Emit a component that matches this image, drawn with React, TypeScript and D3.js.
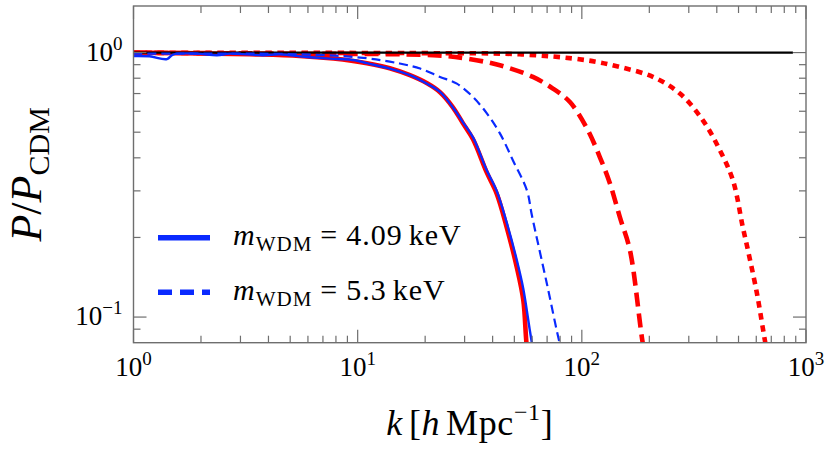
import * as React from 'react';
import { useEffect, useRef } from 'react';
import * as d3 from 'd3';

// Data (k in h/Mpc, P/P_CDM)
const kModel409 = [1, 2, 3.3, 5.5, 7.8, 11, 13.9, 17.1, 20.4, 23.3, 26.6, 29.5, 32.7, 37.6, 41.7, 46.2, 51.2, 54.8, 56.7, 58];
const pModel409 = [1.0, 0.993, 0.985, 0.972, 0.949, 0.911, 0.872, 0.821, 0.765, 0.708, 0.621, 0.54, 0.47, 0.353, 0.293, 0.219, 0.155, 0.116, 0.079, 0.07];

const kModelDashed = [1, 5.5, 21.7, 30.7, 43.1, 60.5, 74.3, 88.5, 105.4, 120.4, 133.5, 147.9, 163.9, 187.3, 200];
const pModelDashed = [0.998, 0.99, 0.977, 0.949, 0.895, 0.809, 0.731, 0.65, 0.517, 0.402, 0.32, 0.238, 0.179, 0.079, 0.06];

const kModelDotted = [1, 20, 52.9, 105.4, 147.9, 207.6, 273.9, 346.9, 413, 472, 523, 550.8, 604, 655.6, 700];
const pModelDotted = [0.997, 0.995, 0.985, 0.935, 0.882, 0.809, 0.7, 0.554, 0.427, 0.329, 0.218, 0.179, 0.123, 0.0816, 0.06];

const kSim409 = [1, 1.18, 1.41, 1.5, 1.92, 2.36, 2.69, 3.78, 4.5, 5.94, 7.52, 9.73, 11, 13.9, 17.1, 20.4, 23.3, 26.6, 29.5, 32.7, 37.6, 41.7, 46.2, 51.2, 54.8, 58.5, 60, 62];
const pSim409 = [0.971, 0.968, 0.945, 0.983, 0.991, 0.977, 0.991, 0.977, 0.985, 0.962, 0.949, 0.935, 0.912, 0.87, 0.822, 0.762, 0.71, 0.62, 0.545, 0.478, 0.36, 0.3, 0.228, 0.165, 0.128, 0.09, 0.079, 0.068];

const kSim53 = [1, 5.5, 10.6, 15.4, 19, 23.3, 27.7, 32.7, 37.7, 43.1, 49.3, 56.9, 59.9, 69.8, 79.8, 85];
const pSim53 = [0.99, 0.985, 0.955, 0.909, 0.87, 0.809, 0.763, 0.679, 0.589, 0.495, 0.391, 0.301, 0.242, 0.134, 0.079, 0.065];

const kCDM = [1, 874];
const pCDM = [1, 1];

const xTicks = [1, 10, 100, 1000];
const xTickLabels = ['0', '1', '2', '3'];
const yTicks = [0.1, 1];
const yTickLabels = ['\u22121', '0'];
const yMinorTicks = [0.09, 0.2, 0.3, 0.4, 0.5, 0.6, 0.7, 0.8, 0.9];

const legendItems = [
  { label: '4.09', dash: '' },
  { label: '5.3', dash: '14,8' },
];

const W = 830;
const H = 458;
const FONT = '"Liberation Serif", serif';
const RED = '#ff0000';
const BLUE = '#0a2aff';
const AXIS = '#6e6e6e';

const PowerChart: React.FC = () => {
  const svgRef = useRef<SVGSVGElement>(null);

  useEffect(() => {
    const svg = d3.select(svgRef.current);
    svg.selectAll('*').remove();

    const margin = { top: 6, right: 24, bottom: 115.3, left: 133.5 };
    const x0 = margin.left;
    const x1 = W - margin.right;
    const y0 = margin.top;
    const y1 = H - margin.bottom;

    const x = d3.scaleLog().domain([1, 1000]).range([x0, x1]);
    const y = d3.scaleLog().domain([0.08, 1.5]).range([y1, y0]);

    svg.append('defs').append('clipPath').attr('id', 'plotclip')
      .append('rect').attr('x', x0).attr('y', y0).attr('width', x1 - x0).attr('height', y1 - y0);

    const line = d3.line<[number, number]>()
      .x(d => x(d[0]))
      .y(d => y(d[1]))
      .curve(d3.curveCatmullRom.alpha(0.5));

    const series = [
      { k: kModel409, p: pModel409, color: RED, width: 4.6, dash: '' },
      { k: kModelDashed, p: pModelDashed, color: RED, width: 4.6, dash: '14,7' },
      { k: kModelDotted, p: pModelDotted, color: RED, width: 4.6, dash: '6.5,5.5' },
      { k: kCDM, p: pCDM, color: '#000', width: 2.2, dash: '' },
      { k: kSim409, p: pSim409, color: BLUE, width: 2.4, dash: '' },
      { k: kSim53, p: pSim53, color: BLUE, width: 2.2, dash: '9,5' },
    ];

    const plot = svg.append('g').attr('clip-path', 'url(#plotclip)');
    series.forEach(s => {
      plot.append('path')
        .datum(s.k.map((k, i) => [k, s.p[i]] as [number, number]))
        .attr('fill', 'none')
        .attr('stroke', s.color)
        .attr('stroke-width', s.width)
        .attr('stroke-dasharray', s.dash || null)
        .attr('d', line);
    });

    // Frame
    svg.append('rect')
      .attr('x', x0).attr('y', y0).attr('width', x1 - x0).attr('height', y1 - y0)
      .attr('fill', 'none').attr('stroke', AXIS).attr('stroke-width', 1.4);

    // Ticks (inward)
    const ticks = svg.append('g').attr('stroke', AXIS).attr('stroke-width', 1.2);
    const xMinor: number[] = [];
    [1, 10, 100].forEach(d => d3.range(2, 10).forEach(m => xMinor.push(d * m)));
    xTicks.forEach(t => {
      ticks.append('line').attr('x1', x(t)).attr('x2', x(t)).attr('y1', y1).attr('y2', y1 - 13);
      ticks.append('line').attr('x1', x(t)).attr('x2', x(t)).attr('y1', y0).attr('y2', y0 + 13);
    });
    xMinor.forEach(t => {
      ticks.append('line').attr('x1', x(t)).attr('x2', x(t)).attr('y1', y1).attr('y2', y1 - 7);
      ticks.append('line').attr('x1', x(t)).attr('x2', x(t)).attr('y1', y0).attr('y2', y0 + 7);
    });
    yTicks.forEach(t => {
      ticks.append('line').attr('x1', x0).attr('x2', x0 + 13).attr('y1', y(t)).attr('y2', y(t));
      ticks.append('line').attr('x1', x1).attr('x2', x1 - 13).attr('y1', y(t)).attr('y2', y(t));
    });
    yMinorTicks.forEach(t => {
      ticks.append('line').attr('x1', x0).attr('x2', x0 + 7).attr('y1', y(t)).attr('y2', y(t));
      ticks.append('line').attr('x1', x1).attr('x2', x1 - 7).attr('y1', y(t)).attr('y2', y(t));
    });

    // Tick labels
    const labels = svg.append('g').attr('font-family', FONT).attr('fill', '#000');
    xTicks.forEach((t, i) => {
      const tx = labels.append('text')
        .attr('x', x(t)).attr('y', y1 + 33.5)
        .attr('text-anchor', 'middle').attr('font-size', 27);
      tx.append('tspan').text('10');
      tx.append('tspan').attr('dy', -11).attr('font-size', 19).text(xTickLabels[i]);
    });
    yTicks.forEach((t, i) => {
      const ty = labels.append('text')
        .attr('x', x0 - 11).attr('y', y(t) + 8)
        .attr('text-anchor', 'end').attr('font-size', 27);
      ty.append('tspan').text('10');
      ty.append('tspan').attr('dy', -11).attr('font-size', 19).text(yTickLabels[i]);
    });

    // Axis titles
    const xt = svg.append('text')
      .attr('x', (x0 + x1) / 2).attr('y', 435)
      .attr('text-anchor', 'middle').attr('font-family', FONT).attr('font-size', 36)
      .attr('letter-spacing', 0.6);
    xt.append('tspan').attr('font-style', 'italic').text('k');
    xt.append('tspan').attr('dx', 6).text('[');
    xt.append('tspan').attr('font-style', 'italic').text('h');
    xt.append('tspan').attr('dx', 6).text('Mpc');
    xt.append('tspan').attr('dy', -15).attr('font-size', 24).text('\u22121');
    xt.append('tspan').attr('dy', 15).text(']');

    const yt = svg.append('text')
      .attr('transform', `translate(41,${(y0 + y1) / 2}) rotate(-90)`)
      .attr('text-anchor', 'middle').attr('font-family', FONT).attr('font-size', 44);
    yt.append('tspan').attr('font-style', 'italic').text('P');
    yt.append('tspan').text('/');
    yt.append('tspan').attr('font-style', 'italic').text('P');
    yt.append('tspan').attr('dy', 8).attr('font-size', 30).text('CDM');

    // Legend
    const legend = svg.append('g').attr('font-family', FONT);
    legendItems.forEach((d, i) => {
      const ly = 237.7 + i * 54.6;
      legend.append('line')
        .attr('x1', 158).attr('x2', 210).attr('y1', ly).attr('y2', ly)
        .attr('stroke', BLUE).attr('stroke-width', 5.5)
        .attr('stroke-dasharray', d.dash || null);
      const t = legend.append('text').attr('x', 233).attr('y', ly + 7.5)
        .attr('font-size', 30).attr('letter-spacing', 1);
      t.append('tspan').attr('font-style', 'italic').text('m');
      t.append('tspan').attr('dy', 6).attr('font-size', 21).text('WDM');
      t.append('tspan').attr('dy', -6).attr('dx', 8).text('=');
      t.append('tspan').attr('dx', 8).text(d.label);
      t.append('tspan').attr('dx', 6).text('keV');
    });
  }, []);

  return (
    <svg ref={svgRef} width={W} height={H} style={{ position: 'absolute', left: 0, top: 0, background: '#fff' }}></svg>
  );
};

export default function App() {
  return <PowerChart />;
}
